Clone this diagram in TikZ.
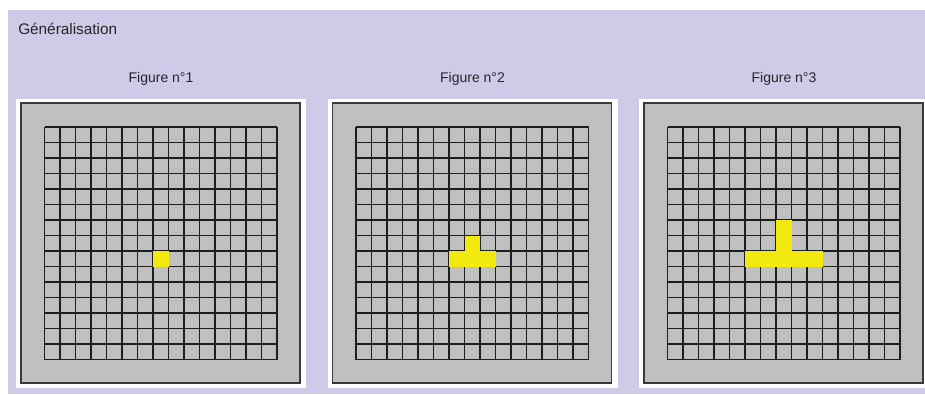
\documentclass[tikz,border=0pt]{standalone}
\usepackage{fontspec}
\setmainfont{Liberation Sans}
\definecolor{lilac}{HTML}{CDCBE7}
\definecolor{panelgray}{HTML}{C0C0C0}
\definecolor{rimgray}{HTML}{3A3A3A}
\definecolor{cellyellow}{HTML}{F2EA0F}
\definecolor{gridblack}{HTML}{1E1E1E}

\begin{document}
\begin{tikzpicture}[
  x=0.75pt, y=-0.75pt,
  every node/.style={text=black!85, inner sep=0pt},
  panel/.style={fill=panelgray, draw=rimgray, line width=1.1pt},
  gridline/.style={draw=gridblack, line width=0.95pt},
  cell/.style={fill=cellyellow},
]

% Page and background
\useasboundingbox (0,0) rectangle (925,394);
\fill[white] (0,0) rectangle (925,394);
\fill[lilac] (8,10) rectangle (925,394);

% Title
\node[anchor=base west, font=\fontsize{11.5}{14}\selectfont] (title) at (18,34.5) {Généralisation};

% Three figures
\foreach \n [evaluate=\n as \xo using 16+311.5*(\n-1)] in {1,2,3} {
  % label
  \node[anchor=base, font=\fontsize{10.5}{12}\selectfont] (lab\n) at (\xo+145,82) {Figure n°\n};
  % white frame and gray panel
  \fill[white] (\xo,98.5) rectangle (\xo+290,387.5);
  \draw[panel] (\xo+5,103) rectangle (\xo+284,383);
  % 15 x 15 grid
  \foreach \k in {0,...,15} {
    \draw[gridline] (\xo+28.5+15.5*\k,127) -- (\xo+28.5+15.5*\k,359.5);
    \draw[gridline] (\xo+28.5,127+15.5*\k) -- (\xo+261,127+15.5*\k);
  }
  % yellow cells
  \pgfmathtruncatemacro\cfirst{8-\n}
  \pgfmathtruncatemacro\clast{6+\n}
  \pgfmathtruncatemacro\rfirst{9-\n}
  \foreach \c in {\cfirst,...,\clast}
    \fill[cell] (\xo+28.5+15.5*\c,127+15.5*8) rectangle ++(15.5,15.5);
  \foreach \r in {\rfirst,...,8}
    \fill[cell] (\xo+28.5+15.5*7,127+15.5*\r) rectangle ++(15.5,15.5);
}

\end{tikzpicture}
\end{document}
